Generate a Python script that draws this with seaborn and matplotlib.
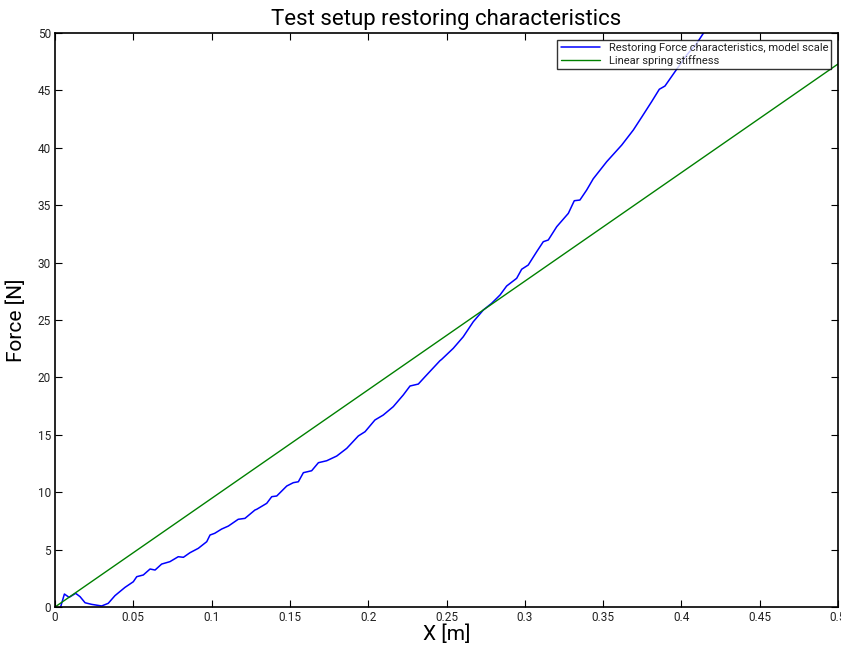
import matplotlib
matplotlib.use('Agg')
import matplotlib.pyplot as plt
import seaborn as sns
import pandas as pd

# measured restoring force (model scale)
x_meas = [0.0035, 0.0038, 0.006, 0.009, 0.0132, 0.016, 0.0192, 0.0234, 0.0298, 0.034,
          0.0383, 0.0447, 0.05, 0.0522, 0.0564, 0.0607, 0.0639, 0.0681, 0.0734, 0.0787,
          0.082, 0.0862, 0.0915, 0.0969, 0.099, 0.102, 0.1064, 0.1107, 0.117, 0.1213,
          0.1277, 0.1288, 0.1352, 0.1384, 0.1416, 0.148, 0.1522, 0.1554, 0.1586, 0.1639,
          0.1682, 0.1735, 0.1799, 0.1863, 0.1937, 0.198, 0.2043, 0.2096, 0.216, 0.2224,
          0.2267, 0.232, 0.2363, 0.2458, 0.2469, 0.2543, 0.2607, 0.2671, 0.2735, 0.2788,
          0.2842, 0.2884, 0.2948, 0.298, 0.3022, 0.3076, 0.3118, 0.315, 0.3204, 0.3278,
          0.3316, 0.3352, 0.3395, 0.3437, 0.3523, 0.3619, 0.3693, 0.3746, 0.381, 0.3859,
          0.3895, 0.3959, 0.4034, 0.4098, 0.414, 0.417]
f_meas = [0.0, 0.1, 1.13, 0.84, 1.19, 0.9, 0.37, 0.23, 0.09, 0.32,
          0.99, 1.71, 2.2, 2.64, 2.79, 3.31, 3.22, 3.74, 3.95, 4.38,
          4.33, 4.73, 5.11, 5.69, 6.27, 6.42, 6.79, 7.05, 7.64, 7.72,
          8.45, 8.51, 9.03, 9.61, 9.67, 10.54, 10.83, 10.91, 11.7, 11.87,
          12.57, 12.74, 13.15, 13.82, 14.9, 15.27, 16.29, 16.72, 17.45, 18.47,
          19.25, 19.42, 20.06, 21.45, 21.57, 22.53, 23.54, 24.85, 25.87, 26.45,
          27.18, 27.96, 28.63, 29.42, 29.79, 30.95, 31.82, 31.97, 33.13, 34.29,
          35.39, 35.45, 36.32, 37.3, 38.79, 40.24, 41.55, 42.66, 44.02, 45.1,
          45.38, 46.63, 48.08, 49.1, 49.97, 50.6]

# linear spring
x_lin = [0.0, 0.5]
f_lin = [0.0, 47.3]

xticks = [0, 0.05, 0.1, 0.15, 0.2, 0.25, 0.3, 0.35, 0.4, 0.45, 0.5]
xtick_labels = ['0', '0.05', '0.1', '0.15', '0.2', '0.25', '0.3', '0.35', '0.4', '0.45', '0.5']
yticks = [0, 5, 10, 15, 20, 25, 30, 35, 40, 45, 50]

meas = pd.DataFrame({'x': x_meas, 'f': f_meas})
lin = pd.DataFrame({'x': x_lin, 'f': f_lin})

sns.set_style('white')
plt.rcParams['font.family'] = ['Roboto', 'DejaVu Sans']
plt.rcParams['text.color'] = 'black'
plt.rcParams['axes.labelcolor'] = 'black'
plt.rcParams['xtick.direction'] = 'in'
plt.rcParams['ytick.direction'] = 'in'

fig = plt.figure(figsize=(8.41, 6.53), dpi=100)
ax = fig.add_axes([55/841, 1 - 607/653, 783/841, 574/653])

sns.lineplot(data=meas, x='x', y='f', ax=ax, color='#0000ff', linewidth=1.1,
             sort=False, estimator=None, label='Restoring Force characteristics, model scale')
sns.lineplot(data=lin, x='x', y='f', ax=ax, color='#008000', linewidth=1.0,
             sort=False, estimator=None, label='Linear spring stiffness')

ax.set_xlim(0, 0.5)
ax.set_ylim(0, 50)
ax.set_xticks(xticks)
ax.set_xticklabels(xtick_labels)
ax.set_yticks(yticks)
ax.tick_params(axis='both', which='both', direction='in', length=5, width=0.8,
               labelsize=8.5, top=True, right=True, bottom=True, left=True, colors='black',
               labelcolor='#222222', pad=3)
for s in ax.spines.values():
    s.set_visible(True)
    s.set_color('black')
    s.set_linewidth(1.2)

ax.set_title('Test setup restoring characteristics', fontsize=16, pad=6, color='black')
ax.set_xlabel('X [m]', fontsize=15, labelpad=0)
ax.set_ylabel('Force [N]', fontsize=15, labelpad=8)

leg = ax.legend(loc='upper right', fontsize=8, frameon=True, fancybox=False,
                edgecolor='black', handlelength=3.5, borderaxespad=0.6,
                borderpad=0.3, labelspacing=0.15)
leg.get_frame().set_linewidth(1.0)
for t in leg.get_texts():
    t.set_color('#222222')

fig.savefig('out.png', dpi=100)
